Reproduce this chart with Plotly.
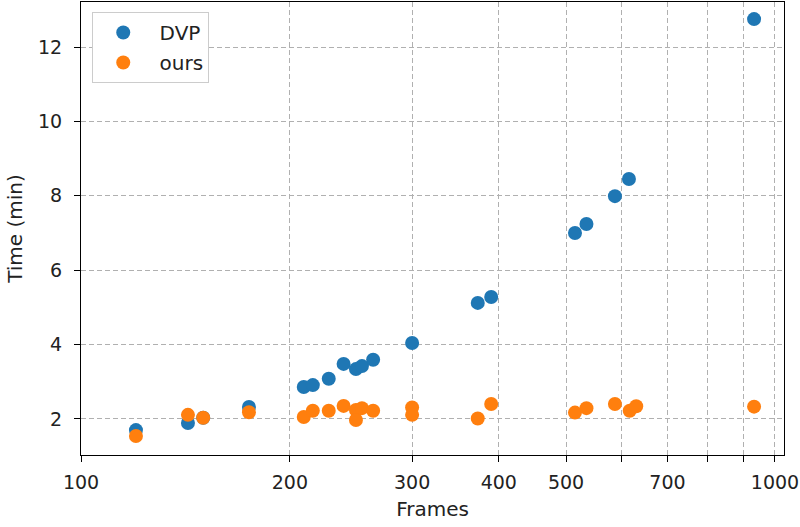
import plotly.graph_objects as go

dvp_frames = [120, 142.6, 150, 174.6, 209.4, 215.8, 227.5, 239, 249, 254, 263.6, 300, 373, 390, 515, 535, 588, 616, 933]
dvp_time = [1.70, 1.89, 2.03, 2.32, 2.86, 2.91, 3.08, 3.48, 3.34, 3.42, 3.59, 4.04, 5.12, 5.28, 7.0, 7.24, 7.99, 8.45, 12.75]

ours_frames = [120, 142.6, 150, 174.6, 209.4, 215.8, 227.5, 239, 249, 249, 254, 263.6, 300, 300, 373, 390, 515, 535, 588, 617.5, 631, 933]
ours_time = [1.54, 2.11, 2.03, 2.18, 2.05, 2.22, 2.22, 2.35, 2.24, 1.97, 2.29, 2.22, 2.31, 2.11, 2.01, 2.40, 2.17, 2.29, 2.40, 2.22, 2.34, 2.33]

x_tickvals = [100, 200, 300, 400, 500, 600, 700, 800, 900, 1000]
x_ticktext = ["100", "200", "300", "400", "500", "", "700", "", "", "1000"]
y_tickvals = [2, 4, 6, 8, 10, 12]

font_family = "DejaVu Sans"
text_color = "#222222"

fig = go.Figure()
fig.add_trace(go.Scatter(x=dvp_frames, y=dvp_time, mode="markers", name=" DVP",
                         legendgroup="a",
                         marker=dict(color="#1f77b4", size=14)))
fig.add_trace(go.Scatter(x=ours_frames, y=ours_time, mode="markers", name=" ours",
                         legendgroup="b",
                         marker=dict(color="#ff7f0e", size=14)))

axis_common = dict(
    showline=True, linecolor="black", linewidth=1, mirror=True,
    ticks="outside", ticklen=6, tickcolor="black", tickwidth=1,
    showgrid=True, gridcolor="#b0b0b0", gridwidth=1, griddash="5px,3px",
    zeroline=False,
    tickfont=dict(family=font_family, size=19, color=text_color),
)

fig.update_xaxes(type="log", range=[2.0, 3.013],
                 tickmode="array", tickvals=x_tickvals, ticktext=x_ticktext,
                 ticklabelstandoff=4,
                 title=dict(text="Frames", font=dict(family=font_family, size=20, color=text_color), standoff=10),
                 **axis_common)
fig.update_yaxes(range=[1.03, 13.21], tickmode="array", tickvals=y_tickvals,
                 ticklabelstandoff=8,
                 title=dict(text="Time (min)", font=dict(family=font_family, size=20, color=text_color), standoff=10),
                 **axis_common)

fig.update_layout(
    width=800, height=527,
    margin=dict(l=81, r=16, t=2, b=72),
    plot_bgcolor="white", paper_bgcolor="white",
    font=dict(family=font_family, size=19, color=text_color),
    showlegend=True,
    legend=dict(x=0.016, y=0.978, xanchor="left", yanchor="top",
                bgcolor="white", bordercolor="#cccccc", borderwidth=1,
                font=dict(family=font_family, size=20, color=text_color),
                tracegroupgap=1, itemwidth=50),
)

fig.write_html("out.html")
